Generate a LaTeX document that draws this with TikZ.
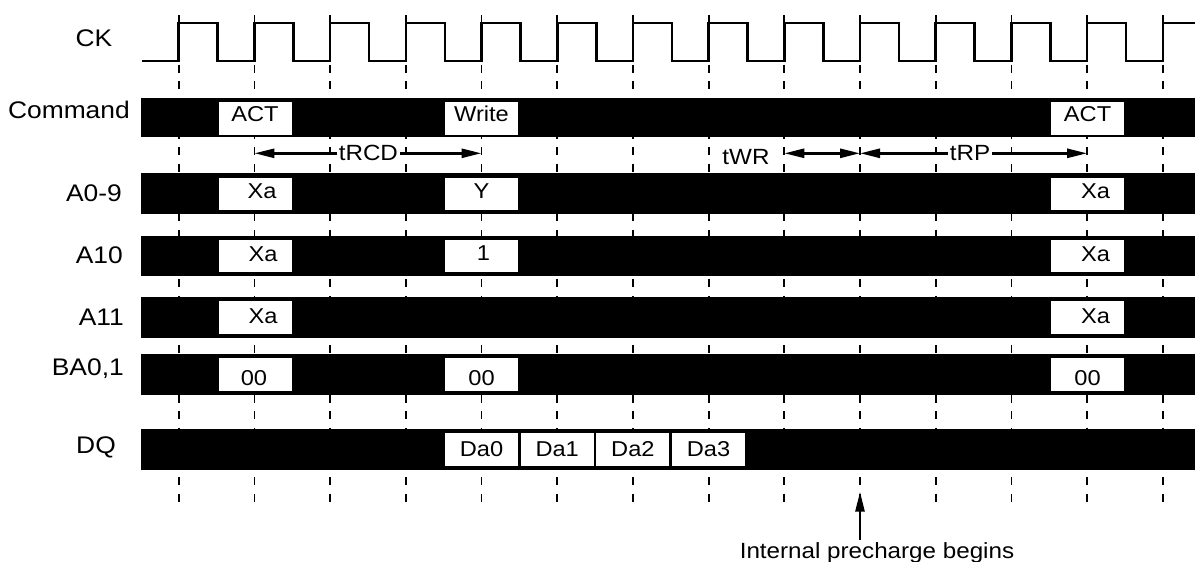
\documentclass[tikz,border=0pt]{standalone}
\usepackage{fontspec}
\setmainfont{Liberation Sans}
\newfontfamily\stfont[FakeStretch=1.1]{Liberation Sans}
\usetikzlibrary{arrows.meta}
\newcommand\bx[6]{\node[box] (#1) at (#2,#3) {}; \node[btxt] (#1t) at (#2+#4,#5) {#6};}
\begin{document}
\begin{tikzpicture}[x=1pt,y=-1pt,
  clk/.style={line width=2.6pt, line join=miter},
  gridl/.style={line width=1.8pt, dash pattern=on 8pt off 8.5pt},
  box/.style={fill=white, minimum width=73pt, minimum height=32.5pt, inner sep=0pt, draw=none},
  btxt/.style={font=\stfont\fontsize{21.5}{22}\selectfont, anchor=base, inner sep=0pt},
  lbl/.style={font=\stfont\fontsize{24}{25}\selectfont, anchor=base east, inner sep=0pt},
  tlbl/.style={font=\stfont\fontsize{22}{23}\selectfont, inner sep=2pt, anchor=base},
  arr/.style={line width=2.6pt, -{Triangle[length=20pt,width=9pt]}},
  darr/.style={line width=2.6pt, {Triangle[length=20pt,width=9pt]}-{Triangle[length=20pt,width=9pt]}},
]
\useasboundingbox (0,0) rectangle (1195,562);
% grid
\foreach \k in {0,...,13} {
  \draw[gridl] ({178.7+75.7*\k},15) -- ({178.7+75.7*\k},502);
}
% clock
\draw[clk] (141.6,61) foreach \k in {0,...,12} { -- ({178.7+75.7*\k},61) -- ++(0,-38) -- ++(39,0) -- ++(0,38) } -- (1162.8,61) -- (1162.8,23) -- (1195,23);
% bars
\fill (140.5,98.3) rectangle (1195,137);
\fill (140.5,173.3) rectangle (1195,214);
\fill (140.5,235.7) rectangle (1195,276);
\fill (140.5,297.3) rectangle (1195,338);
\fill (140.5,354) rectangle (1195,395);
\fill (140.5,429.3) rectangle (1195,470);
% labels
\node[lbl] (lck) at (112.5,46.7) {CK};
\node[lbl] (lcmd) at (130,118.3) {Command};
\node[lbl] (la09) at (122,201.7) {A0-9};
\node[lbl] (la10) at (123,263.3) {A10};
\node[lbl] (la11) at (124,325) {A11};
\node[lbl] (lba) at (124,375) {BA0,1};
\node[lbl] (ldq) at (116,453.3) {DQ};
% command
\bx{c1}{255}{118.5}{0}{121.7}{ACT}
\bx{c2}{481.5}{118.5}{0}{121.7}{Write}
\bx{c3}{1087.6}{118.5}{0}{121.7}{ACT}
% A0-9
\bx{a1}{255}{193.8}{7}{198.3}{Xa}
\bx{a2}{481.5}{193.8}{0}{198.3}{Y}
\bx{a3}{1087.6}{193.8}{8}{198.3}{Xa}
% A10
\bx{b1}{255}{255.9}{8}{261.7}{Xa}
\bx{b2}{481.5}{255.9}{2}{260}{1}
\bx{b3}{1087.6}{255.9}{8}{261.7}{Xa}
% A11
\bx{d1}{255}{317.6}{8}{323.3}{Xa}
\bx{d3}{1087.6}{317.6}{8}{323.3}{Xa}
% BA0,1
\bx{e1}{255}{374.5}{-1}{385}{00}
\bx{e2}{481.5}{374.5}{0}{385}{00}
\bx{e3}{1087.6}{374.5}{0}{385}{00}
% DQ
\bx{q0}{481.5}{449.7}{0}{456.7}{Da0}
\bx{q1}{557.2}{449.7}{0}{456.7}{Da1}
\bx{q2}{632.9}{449.7}{0}{456.7}{Da2}
\bx{q3}{708.6}{449.7}{0}{456.7}{Da3}
% timing arrows
\coordinate (rcdL) at (254.4,153.3);
\coordinate (rcdR) at (481.5,153.3);
\node[tlbl] (trcd) at (368.4,160) {tRCD};
\draw[arr] (trcd.west |- rcdL) -- (rcdL);
\draw[arr] (trcd.east |- rcdR) -- (rcdR);
\node[tlbl] (twr) at (746,164.5) {tWR};
\coordinate (wrL) at (784.3,153.3);
\coordinate (wrR) at (860,153.3);
\draw[darr] (wrL) -- (wrR);
\coordinate (rpL) at (860,153.3);
\coordinate (rpR) at (1087.1,153.3);
\node[tlbl] (trp) at (970,160) {tRP};
\draw[arr] (trp.west |- rpL) -- (rpL);
\draw[arr] (trp.east |- rpR) -- (rpR);
% internal precharge
\node[tlbl] (ipb) at (877,558.5) {Internal precharge begins};
\coordinate (ipt) at (860,491.7);
\draw[arr] (ipb.north -| ipt) -- (ipt);
\end{tikzpicture}
\end{document}
